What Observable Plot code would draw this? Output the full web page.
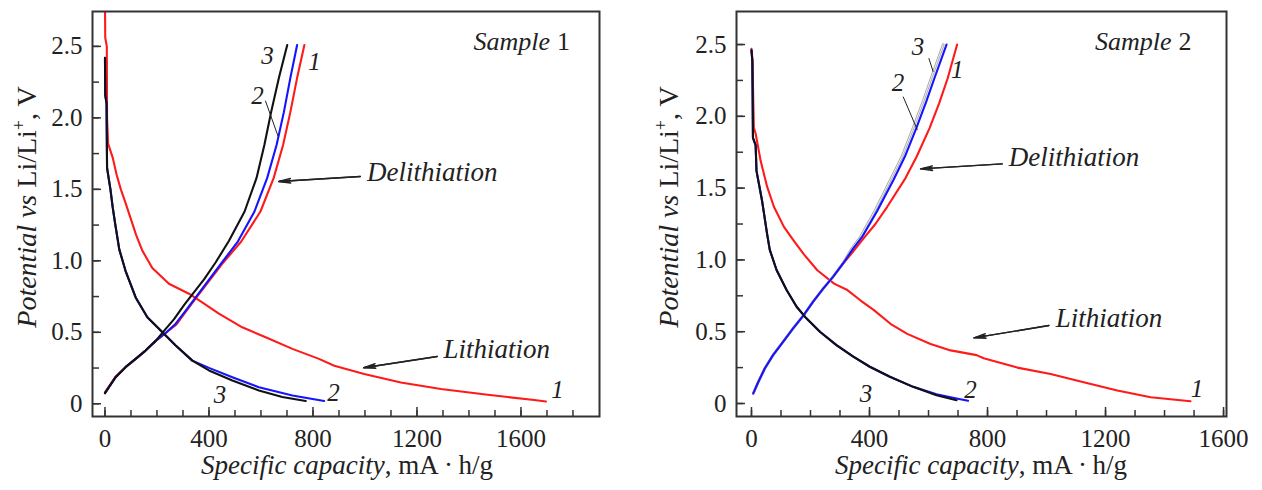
<!DOCTYPE html>
<html><head><meta charset="utf-8">
<script src="https://cdn.jsdelivr.net/npm/d3@7"></script>
<script src="https://cdn.jsdelivr.net/npm/@observablehq/plot@0.6"></script>
<style>
body{margin:0;background:#fff;}
#wrap{position:relative;width:1262px;height:490px;display:flex;}
svg{font-family:"Liberation Serif","Times New Roman",serif;}
</style></head><body><div id="wrap"></div>
<script>
// ---------- axis ticks ----------
const xTickValues = [0, 400, 800, 1200, 1600];
const xTickLabels = ["0", "400", "800", "1200", "1600"];
const yTickValues = [0, 0.5, 1.0, 1.5, 2.0, 2.5];
const yTickLabels = ["0", "0.5", "1.0", "1.5", "2.0", "2.5"];
const cycleColors = {"1": "#ff1a1a", "2": "#1414ff", "3": "#111111"};

// ---------- Sample 1 : [capacity mA·h/g, potential V] ----------
const s1Lith1 = [[0,2.80],[1,2.56],[7,2.50],[8,2.0],[12,1.82],[30,1.72],[45,1.60],[61,1.50],[80,1.40],[100,1.29],[120,1.18],[144,1.07],[182,0.95],[246,0.84],[323,0.77],[374,0.71],[438,0.63],[528,0.535],[618,0.465],[721,0.384],[823,0.314],[882,0.266],[997,0.208],[1138,0.149],[1292,0.103],[1472,0.063],[1651,0.026],[1696,0.016]];
const s1Lith2 = [[0,2.42],[1,2.16],[6,2.1],[8,1.65],[14,1.58],[21,1.50],[30,1.37],[40,1.25],[55,1.08],[79,0.93],[118,0.744],[163,0.605],[221,0.50],[272,0.407],[336,0.302],[400,0.251],[490,0.186],[592,0.116],[721,0.058],[843,0.02]];
const s1Lith3 = [[0,2.42],[1,2.16],[6,2.1],[8,1.65],[14,1.58],[21,1.50],[30,1.37],[40,1.25],[55,1.08],[79,0.93],[118,0.744],[163,0.605],[221,0.50],[272,0.407],[336,0.302],[400,0.233],[490,0.163],[592,0.093],[682,0.047],[772,0.019]];
const s1Delith1 = [[0,0.08],[41,0.19],[79,0.256],[118,0.314],[156,0.372],[195,0.44],[230,0.49],[275,0.555],[313,0.65],[352,0.744],[450,0.977],[524,1.135],[598,1.345],[649,1.58],[685,1.81],[713,2.04],[739,2.28],[767,2.51]];
const s1Delith2 = [[0,0.074],[41,0.186],[79,0.256],[118,0.314],[156,0.372],[195,0.44],[230,0.49],[272,0.56],[310,0.65],[349,0.744],[445,0.977],[511,1.135],[575,1.345],[624,1.58],[660,1.81],[688,2.04],[713,2.28],[739,2.51]];
const s1Delith3 = [[0,0.074],[41,0.186],[79,0.256],[118,0.314],[156,0.372],[195,0.44],[227,0.51],[265,0.59],[304,0.69],[342,0.78],[381,0.87],[426,0.99],[477,1.14],[537,1.345],[583,1.58],[613,1.81],[639,2.04],[669,2.28],[701,2.51]];

// ---------- Sample 2 ----------
const s2Lith1 = [[0,2.47],[3,2.40],[8,1.92],[14,1.88],[31,1.69],[53,1.51],[76,1.37],[110,1.23],[143,1.135],[177,1.04],[223,0.928],[280,0.835],[325,0.79],[370,0.717],[415,0.65],[471,0.555],[528,0.485],[607,0.415],[675,0.37],[763,0.337],[787,0.315],[901,0.25],[1014,0.205],[1126,0.148],[1240,0.09],[1353,0.044],[1488,0.016]];
const s2Lith2 = [[0,2.46],[3,2.38],[5,1.85],[14,1.80],[17,1.62],[36,1.41],[53,1.18],[62,1.07],[85,0.93],[119,0.79],[153,0.674],[186,0.593],[232,0.50],[288,0.407],[345,0.326],[401,0.256],[469,0.186],[548,0.116],[627,0.065],[695,0.035],[734,0.019]];
const s2Lith3 = [[0,2.46],[3,2.38],[5,1.85],[14,1.80],[17,1.62],[36,1.41],[53,1.18],[62,1.07],[85,0.93],[119,0.79],[153,0.674],[186,0.593],[232,0.50],[288,0.407],[345,0.326],[401,0.256],[469,0.186],[548,0.116],[627,0.058],[695,0.023]];
const s2Delith1 = [[6,0.07],[23,0.15],[45,0.244],[73,0.337],[107,0.43],[141,0.523],[175,0.61],[209,0.71],[243,0.80],[277,0.884],[311,0.975],[345,1.06],[380,1.15],[420,1.25],[460,1.37],[522,1.57],[560,1.72],[604,1.92],[636,2.09],[665,2.265],[697,2.50]];
const s2Delith2 = [[6,0.07],[23,0.15],[45,0.244],[73,0.337],[107,0.43],[141,0.523],[175,0.61],[209,0.71],[243,0.80],[277,0.884],[311,0.977],[345,1.08],[375,1.16],[426,1.34],[482,1.56],[520,1.72],[559,1.92],[592,2.1],[620,2.265],[661,2.50]];
const s2Delith3 = [[6,0.07],[23,0.15],[45,0.244],[73,0.337],[107,0.43],[141,0.523],[175,0.61],[209,0.71],[243,0.80],[277,0.884],[311,0.98],[340,1.08],[369,1.16],[418,1.34],[471,1.56],[510,1.72],[548,1.92],[581,2.1],[609,2.265],[650,2.50]];

// ---------- annotations (data coordinates) ----------
const s1Numbers = [{t:"3",c:625,v:2.435},{t:"1",c:806,v:2.39},{t:"2",c:587,v:2.15},{t:"3",c:442,v:0.058},{t:"2",c:879,v:0.076},{t:"1",c:1740,v:0.093}];
const s1Words = [{t:"Delithiation",c:1008,v:1.62},{t:"Lithiation",c:1302,v:0.38}];
const s1Arrows = [{c1:982,v1:1.59,c2:668,v2:1.555},{c1:1278,v1:0.331,c2:995,v2:0.252}];
const s1Leaders = [{c1:617,v1:2.12,c2:666,v2:1.87}];
const s1Title = {word:"Sample", num:"1", c:1712, v:2.53};

const s2Numbers = [{t:"3",c:564,v:2.486},{t:"2",c:497,v:2.23},{t:"1",c:697,v:2.326},{t:"3",c:388,v:0.068},{t:"2",c:742,v:0.097},{t:"1",c:1510,v:0.102}];
const s2Words = [{t:"Delithiation",c:872,v:1.715},{t:"Lithiation",c:1031,v:0.595}];
const s2Arrows = [{c1:850,v1:1.669,c2:573,v2:1.634},{c1:1008,v1:0.543,c2:754,v2:0.457}];
const s2Leaders = [{c1:601,v1:2.405,c2:616,v2:2.31},{c1:514,v1:2.137,c2:562,v2:1.906}];
const s2Title = {word:"Sample", num:"2", c:1424, v:2.52};

const fam = '"Liberation Serif","Times New Roman",serif';
const ink = "#222";
const rows = arr => arr.map(([c, v]) => ({c, v}));

function panel(p) {
  const W = 631, H = 490, mt = 11, mb = 74;
  const frameW = W - p.ml - p.mr, frameH = H - mt - mb;
  const minorX = d3.range(0, p.xMax + 1, 100);
  const minorY = d3.range(0, 2.51, 0.25);
  const marks = [];
  p.series.forEach(s => {
    if (s.hollow) {
      marks.push(Plot.line(rows(s.pts), {x:"c", y:"v", stroke:"#a8a8a8", strokeWidth:2.6, clip:true}));
      marks.push(Plot.line(rows(s.pts), {x:"c", y:"v", stroke:"#f4f4f4", strokeWidth:0.9, clip:true}));
    } else {
      marks.push(Plot.line(rows(s.pts), {x:"c", y:"v", stroke:cycleColors[s.cycle], strokeWidth:2.1, clip:true}));
    }
  });
  marks.push(Plot.tickX(minorX, {x:d=>d, insetTop: frameH - 6, stroke:"#333", strokeWidth:1.5}));
  marks.push(Plot.tickX(xTickValues.filter(d => d <= p.xMax), {x:d=>d, insetTop: frameH - 9, stroke:"#333", strokeWidth:1.5}));
  marks.push(Plot.tickY(minorY, {y:d=>d, insetRight: frameW - 7, stroke:"#333", strokeWidth:1.5}));
  marks.push(Plot.tickY(yTickValues, {y:d=>d, insetRight: frameW - 9, stroke:"#333", strokeWidth:1.5}));
  marks.push(Plot.frame({stroke:"#333", strokeWidth:2}));
  marks.push(Plot.axisX(xTickValues, {tickSize:0, tickPadding:13, fontSize:25, fill:ink, tickFormat:(d,i)=>xTickLabels[i], label:null}));
  marks.push(Plot.axisY(yTickValues, {tickSize:0, tickPadding:10, fontSize:25, fill:ink, tickFormat:(d,i)=>yTickLabels[i], label:null}));
  marks.push(Plot.link(p.leaders, {x1:"c1", y1:"v1", x2:"c2", y2:"v2", stroke:ink, strokeWidth:1}));
  marks.push(Plot.arrow(p.arrows, {x1:"c1", y1:"v1", x2:"c2", y2:"v2", stroke:ink, strokeWidth:1.4, headLength:13, headAngle:22}));
  marks.push(Plot.arrow(p.arrows, {x1:"c1", y1:"v1", x2:"c2", y2:"v2", stroke:ink, strokeWidth:1.4, headLength:12, headAngle:10}));
  marks.push(Plot.text(p.numbers, {x:"c", y:"v", text:"t", fontSize:25, fontStyle:"italic", fill:ink, lineAnchor:"middle"}));
  marks.push(Plot.text(p.words, {x:"c", y:"v", text:"t", fontSize:27, fontStyle:"italic", fill:ink, textAnchor:"start", lineAnchor:"middle"}));
  marks.push(Plot.text([p.title], {x:"c", y:"v", text:"word", fontSize:26, fontStyle:"italic", fill:ink, textAnchor:"end", lineAnchor:"middle"}));
  marks.push(Plot.text([p.title], {x:"c", y:"v", text:"num", fontSize:26, fill:ink, textAnchor:"start", lineAnchor:"middle", dx:7}));

  const svg = Plot.plot({
    width: W, height: H, marginTop: mt, marginBottom: mb, marginLeft: p.ml, marginRight: p.mr,
    x: {domain: p.xDomain, axis: null},
    y: {domain: p.yDomain, axis: null},
    style: {fontFamily: fam, background: "white", overflow: "visible"},
    marks
  });
  const s = d3.select(svg);
  const xt = s.append("text").attr("x", p.xLabelX).attr("y", 474).attr("text-anchor", "middle")
    .attr("font-size", 27).attr("fill", ink).attr("font-family", fam);
  xt.append("tspan").attr("font-style", "italic").text("Specific capacity");
  xt.append("tspan").text(", mA\u2009\u00B7\u2009h/g");
  const yt = s.append("text").attr("transform", `translate(${p.yLabelX},207) rotate(-90)`).attr("text-anchor", "middle")
    .attr("font-size", 28).attr("fill", ink).attr("font-family", fam);
  yt.append("tspan").attr("font-style", "italic").text("Potential vs");
  yt.append("tspan").text(" Li/Li");
  yt.append("tspan").attr("font-size", 18).attr("dy", -11).text("+");
  yt.append("tspan").attr("dy", 11).text(", V");
  return svg;
}

const wrap = document.getElementById("wrap");
wrap.appendChild(panel({
  ml: 92, mr: 32, xDomain: [-48, 1902], yDomain: [-0.089, 2.744], xMax: 1800,
  xLabelX: 347, yLabelX: 36,
  series: [
    {cycle:"1", pts:s1Lith1}, {cycle:"1", pts:s1Delith1},
    {cycle:"2", pts:s1Lith2}, {cycle:"2", pts:s1Delith2},
    {cycle:"3", pts:s1Delith3}, {cycle:"3", pts:s1Lith3}
  ],
  numbers: s1Numbers, words: s1Words, arrows: s1Arrows, leaders: s1Leaders, title: s1Title
}));
wrap.appendChild(panel({
  ml: 105, mr: 36, xDomain: [-50.8, 1610], yDomain: [-0.0905, 2.73], xMax: 1600,
  xLabelX: 350, yLabelX: 47,
  series: [
    {cycle:"1", pts:s2Lith1}, {cycle:"1", pts:s2Delith1},
    {cycle:"3", pts:s2Delith3, hollow:true},
    {cycle:"2", pts:s2Lith2}, {cycle:"2", pts:s2Delith2},
    {cycle:"3", pts:s2Lith3}
  ],
  numbers: s2Numbers, words: s2Words, arrows: s2Arrows, leaders: s2Leaders, title: s2Title
}));
</script></body></html>
